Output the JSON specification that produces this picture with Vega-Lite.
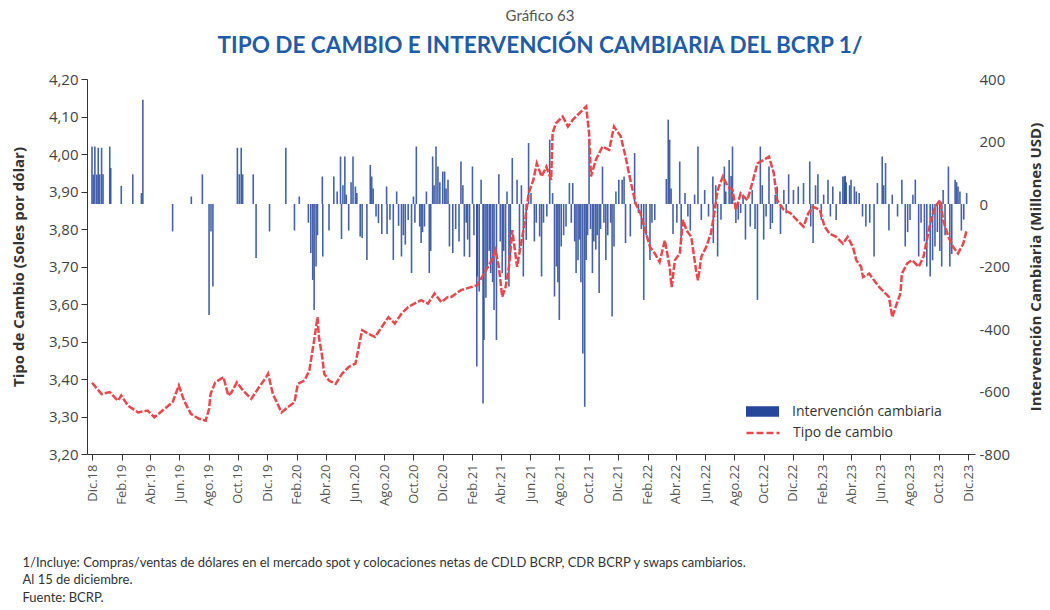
{
  "$schema": "https://vega.github.io/schema/vega-lite/v6.json",
  "width": 888,
  "height": 375,
  "autosize": "none",
  "padding": {"left": 87, "top": 79, "right": 75, "bottom": 156},
  "background": "white",
  "config": {"view": {"stroke": null}},
  "title": {
    "text": "Gráfico 63",
    "subtitle": "TIPO DE CAMBIO E INTERVENCIÓN CAMBIARIA DEL BCRP 1/",
    "anchor": "middle",
    "dx": 9,
    "offset": 15,
    "font": "Lato",
    "fontSize": 15,
    "fontWeight": "normal",
    "color": "#555555",
    "subtitleFont": "Lato",
    "subtitleFontSize": 22.5,
    "subtitleFontWeight": "bold",
    "subtitleColor": "#1f5ca8",
    "subtitlePadding": 11
  },
  "datasets": {
    "tc": [
      {"fecha": "2018-12-01", "tc": 3.39}, {"fecha": "2018-12-21", "tc": 3.36}, {"fecha": "2019-01-07", "tc": 3.365}, {"fecha": "2019-01-24", "tc": 3.342}, {"fecha": "2019-01-31", "tc": 3.356}, {"fecha": "2019-02-14", "tc": 3.329}, {"fecha": "2019-03-07", "tc": 3.311}, {"fecha": "2019-03-27", "tc": 3.316}, {"fecha": "2019-04-10", "tc": 3.298}, {"fecha": "2019-05-01", "tc": 3.32}, {"fecha": "2019-05-18", "tc": 3.338}, {"fecha": "2019-05-31", "tc": 3.383}, {"fecha": "2019-06-11", "tc": 3.342}, {"fecha": "2019-06-25", "tc": 3.307}, {"fecha": "2019-07-12", "tc": 3.294}, {"fecha": "2019-07-26", "tc": 3.289}, {"fecha": "2019-08-02", "tc": 3.32}, {"fecha": "2019-08-05", "tc": 3.36}, {"fecha": "2019-08-15", "tc": 3.391}, {"fecha": "2019-09-01", "tc": 3.405}, {"fecha": "2019-09-11", "tc": 3.356}, {"fecha": "2019-09-18", "tc": 3.365}, {"fecha": "2019-09-29", "tc": 3.391}, {"fecha": "2019-10-12", "tc": 3.369}, {"fecha": "2019-10-29", "tc": 3.347}, {"fecha": "2019-11-12", "tc": 3.374}, {"fecha": "2019-11-29", "tc": 3.405}, {"fecha": "2019-12-03", "tc": 3.414}, {"fecha": "2019-12-13", "tc": 3.36}, {"fecha": "2019-12-31", "tc": 3.311}, {"fecha": "2020-01-13", "tc": 3.325}, {"fecha": "2020-01-27", "tc": 3.338}, {"fecha": "2020-02-03", "tc": 3.387}, {"fecha": "2020-02-17", "tc": 3.396}, {"fecha": "2020-02-27", "tc": 3.423}, {"fecha": "2020-03-08", "tc": 3.503}, {"fecha": "2020-03-15", "tc": 3.565}, {"fecha": "2020-03-18", "tc": 3.512}, {"fecha": "2020-03-25", "tc": 3.458}, {"fecha": "2020-03-29", "tc": 3.414}, {"fecha": "2020-04-08", "tc": 3.396}, {"fecha": "2020-04-22", "tc": 3.387}, {"fecha": "2020-05-05", "tc": 3.414}, {"fecha": "2020-05-19", "tc": 3.432}, {"fecha": "2020-06-02", "tc": 3.441}, {"fecha": "2020-06-09", "tc": 3.485}, {"fecha": "2020-06-16", "tc": 3.53}, {"fecha": "2020-06-29", "tc": 3.521}, {"fecha": "2020-07-13", "tc": 3.512}, {"fecha": "2020-07-27", "tc": 3.539}, {"fecha": "2020-08-10", "tc": 3.565}, {"fecha": "2020-08-23", "tc": 3.548}, {"fecha": "2020-09-06", "tc": 3.574}, {"fecha": "2020-09-20", "tc": 3.592}, {"fecha": "2020-10-03", "tc": 3.601}, {"fecha": "2020-10-17", "tc": 3.61}, {"fecha": "2020-10-31", "tc": 3.601}, {"fecha": "2020-11-14", "tc": 3.628}, {"fecha": "2020-11-28", "tc": 3.605}, {"fecha": "2020-12-12", "tc": 3.619}, {"fecha": "2020-12-19", "tc": 3.619}, {"fecha": "2021-01-08", "tc": 3.637}, {"fecha": "2021-01-29", "tc": 3.645}, {"fecha": "2021-02-11", "tc": 3.65}, {"fecha": "2021-02-25", "tc": 3.681}, {"fecha": "2021-03-11", "tc": 3.712}, {"fecha": "2021-03-21", "tc": 3.744}, {"fecha": "2021-03-28", "tc": 3.699}, {"fecha": "2021-04-04", "tc": 3.619}, {"fecha": "2021-04-11", "tc": 3.645}, {"fecha": "2021-04-18", "tc": 3.699}, {"fecha": "2021-04-25", "tc": 3.797}, {"fecha": "2021-05-05", "tc": 3.699}, {"fecha": "2021-05-12", "tc": 3.752}, {"fecha": "2021-05-22", "tc": 3.824}, {"fecha": "2021-05-29", "tc": 3.895}, {"fecha": "2021-06-08", "tc": 3.931}, {"fecha": "2021-06-15", "tc": 3.975}, {"fecha": "2021-06-25", "tc": 3.94}, {"fecha": "2021-07-05", "tc": 3.966}, {"fecha": "2021-07-15", "tc": 3.931}, {"fecha": "2021-07-18", "tc": 4.056}, {"fecha": "2021-07-25", "tc": 4.082}, {"fecha": "2021-08-08", "tc": 4.1}, {"fecha": "2021-08-19", "tc": 4.073}, {"fecha": "2021-08-29", "tc": 4.091}, {"fecha": "2021-09-12", "tc": 4.109}, {"fecha": "2021-09-26", "tc": 4.127}, {"fecha": "2021-10-02", "tc": 4.056}, {"fecha": "2021-10-06", "tc": 3.94}, {"fecha": "2021-10-16", "tc": 3.984}, {"fecha": "2021-10-30", "tc": 4.02}, {"fecha": "2021-11-13", "tc": 4.011}, {"fecha": "2021-11-23", "tc": 4.073}, {"fecha": "2021-12-07", "tc": 4.047}, {"fecha": "2021-12-17", "tc": 3.993}, {"fecha": "2021-12-27", "tc": 3.931}, {"fecha": "2022-01-07", "tc": 3.868}, {"fecha": "2022-01-17", "tc": 3.842}, {"fecha": "2022-01-27", "tc": 3.797}, {"fecha": "2022-02-06", "tc": 3.752}, {"fecha": "2022-02-16", "tc": 3.735}, {"fecha": "2022-02-26", "tc": 3.712}, {"fecha": "2022-03-09", "tc": 3.77}, {"fecha": "2022-03-19", "tc": 3.699}, {"fecha": "2022-03-23", "tc": 3.645}, {"fecha": "2022-03-30", "tc": 3.717}, {"fecha": "2022-04-09", "tc": 3.735}, {"fecha": "2022-04-16", "tc": 3.824}, {"fecha": "2022-04-23", "tc": 3.797}, {"fecha": "2022-05-03", "tc": 3.779}, {"fecha": "2022-05-13", "tc": 3.69}, {"fecha": "2022-05-17", "tc": 3.663}, {"fecha": "2022-05-24", "tc": 3.726}, {"fecha": "2022-06-03", "tc": 3.752}, {"fecha": "2022-06-13", "tc": 3.788}, {"fecha": "2022-06-20", "tc": 3.842}, {"fecha": "2022-06-27", "tc": 3.904}, {"fecha": "2022-07-08", "tc": 3.94}, {"fecha": "2022-07-18", "tc": 3.913}, {"fecha": "2022-07-28", "tc": 3.904}, {"fecha": "2022-08-04", "tc": 3.851}, {"fecha": "2022-08-14", "tc": 3.895}, {"fecha": "2022-08-28", "tc": 3.877}, {"fecha": "2022-09-07", "tc": 3.922}, {"fecha": "2022-09-18", "tc": 3.975}, {"fecha": "2022-10-01", "tc": 3.984}, {"fecha": "2022-10-12", "tc": 3.993}, {"fecha": "2022-10-22", "tc": 3.949}, {"fecha": "2022-10-29", "tc": 3.877}, {"fecha": "2022-11-12", "tc": 3.851}, {"fecha": "2022-11-26", "tc": 3.842}, {"fecha": "2022-12-09", "tc": 3.824}, {"fecha": "2022-12-23", "tc": 3.806}, {"fecha": "2023-01-02", "tc": 3.842}, {"fecha": "2023-01-12", "tc": 3.859}, {"fecha": "2023-01-26", "tc": 3.851}, {"fecha": "2023-02-05", "tc": 3.806}, {"fecha": "2023-02-15", "tc": 3.788}, {"fecha": "2023-03-01", "tc": 3.779}, {"fecha": "2023-03-15", "tc": 3.761}, {"fecha": "2023-03-25", "tc": 3.779}, {"fecha": "2023-04-05", "tc": 3.752}, {"fecha": "2023-04-12", "tc": 3.717}, {"fecha": "2023-04-22", "tc": 3.699}, {"fecha": "2023-04-26", "tc": 3.672}, {"fecha": "2023-05-09", "tc": 3.681}, {"fecha": "2023-05-19", "tc": 3.663}, {"fecha": "2023-05-30", "tc": 3.645}, {"fecha": "2023-06-12", "tc": 3.628}, {"fecha": "2023-06-19", "tc": 3.619}, {"fecha": "2023-06-26", "tc": 3.565}, {"fecha": "2023-07-03", "tc": 3.592}, {"fecha": "2023-07-13", "tc": 3.628}, {"fecha": "2023-07-16", "tc": 3.681}, {"fecha": "2023-07-27", "tc": 3.708}, {"fecha": "2023-08-06", "tc": 3.717}, {"fecha": "2023-08-20", "tc": 3.699}, {"fecha": "2023-08-30", "tc": 3.726}, {"fecha": "2023-09-06", "tc": 3.77}, {"fecha": "2023-09-13", "tc": 3.815}, {"fecha": "2023-09-23", "tc": 3.859}, {"fecha": "2023-10-04", "tc": 3.877}, {"fecha": "2023-10-10", "tc": 3.824}, {"fecha": "2023-10-21", "tc": 3.779}, {"fecha": "2023-10-31", "tc": 3.752}, {"fecha": "2023-11-10", "tc": 3.735}, {"fecha": "2023-11-21", "tc": 3.761}, {"fecha": "2023-11-28", "tc": 3.797}
    ],
    "int": [
      {"fecha": "2018-12-01", "millones": 184}, {"fecha": "2018-12-04", "millones": 94}, {"fecha": "2018-12-07", "millones": 184}, {"fecha": "2018-12-11", "millones": 94}, {"fecha": "2018-12-14", "millones": 180}, {"fecha": "2018-12-17", "millones": 95}, {"fecha": "2018-12-21", "millones": 180}, {"fecha": "2018-12-24", "millones": 95}, {"fecha": "2019-01-07", "millones": 184}, {"fecha": "2019-01-09", "millones": 115}, {"fecha": "2019-01-31", "millones": 58}, {"fecha": "2019-02-24", "millones": 95}, {"fecha": "2019-03-14", "millones": 35}, {"fecha": "2019-03-17", "millones": 334}, {"fecha": "2019-05-18", "millones": -88}, {"fecha": "2019-06-26", "millones": 24}, {"fecha": "2019-07-19", "millones": 95}, {"fecha": "2019-08-02", "millones": -355}, {"fecha": "2019-08-06", "millones": -88}, {"fecha": "2019-08-10", "millones": -264}, {"fecha": "2019-09-30", "millones": 180}, {"fecha": "2019-10-04", "millones": 95}, {"fecha": "2019-10-08", "millones": 180}, {"fecha": "2019-10-11", "millones": 95}, {"fecha": "2019-11-02", "millones": 95}, {"fecha": "2019-11-08", "millones": -173}, {"fecha": "2019-12-06", "millones": -88}, {"fecha": "2020-01-09", "millones": 180}, {"fecha": "2020-01-27", "millones": -85}, {"fecha": "2020-02-06", "millones": 24}, {"fecha": "2020-02-25", "millones": -60}, {"fecha": "2020-03-01", "millones": -157}, {"fecha": "2020-03-05", "millones": -243}, {"fecha": "2020-03-08", "millones": -339}, {"fecha": "2020-03-12", "millones": -200}, {"fecha": "2020-03-15", "millones": -100}, {"fecha": "2020-03-25", "millones": 88}, {"fecha": "2020-03-26", "millones": -168}, {"fecha": "2020-04-08", "millones": -85}, {"fecha": "2020-04-18", "millones": 88}, {"fecha": "2020-04-25", "millones": 40}, {"fecha": "2020-05-02", "millones": 152}, {"fecha": "2020-05-04", "millones": -112}, {"fecha": "2020-05-07", "millones": 60}, {"fecha": "2020-05-11", "millones": 152}, {"fecha": "2020-05-14", "millones": 30}, {"fecha": "2020-05-19", "millones": -85}, {"fecha": "2020-05-24", "millones": 70}, {"fecha": "2020-05-28", "millones": 152}, {"fecha": "2020-06-02", "millones": 56}, {"fecha": "2020-06-05", "millones": 35}, {"fecha": "2020-06-12", "millones": -104}, {"fecha": "2020-06-16", "millones": -109}, {"fecha": "2020-06-26", "millones": -179}, {"fecha": "2020-07-03", "millones": 125}, {"fecha": "2020-07-06", "millones": 88}, {"fecha": "2020-07-09", "millones": 50}, {"fecha": "2020-07-15", "millones": -40}, {"fecha": "2020-07-20", "millones": -61}, {"fecha": "2020-07-27", "millones": -96}, {"fecha": "2020-08-06", "millones": 56}, {"fecha": "2020-08-07", "millones": -96}, {"fecha": "2020-08-13", "millones": -50}, {"fecha": "2020-08-20", "millones": -179}, {"fecha": "2020-08-27", "millones": 40}, {"fecha": "2020-08-31", "millones": -70}, {"fecha": "2020-09-06", "millones": -168}, {"fecha": "2020-09-10", "millones": -100}, {"fecha": "2020-09-14", "millones": -130}, {"fecha": "2020-09-20", "millones": -51}, {"fecha": "2020-09-27", "millones": -221}, {"fecha": "2020-10-01", "millones": 24}, {"fecha": "2020-10-04", "millones": -60}, {"fecha": "2020-10-07", "millones": 184}, {"fecha": "2020-10-14", "millones": -72}, {"fecha": "2020-10-17", "millones": -125}, {"fecha": "2020-10-20", "millones": -90}, {"fecha": "2020-10-24", "millones": -72}, {"fecha": "2020-10-28", "millones": 40}, {"fecha": "2020-11-03", "millones": -221}, {"fecha": "2020-11-06", "millones": -150}, {"fecha": "2020-11-10", "millones": 152}, {"fecha": "2020-11-13", "millones": 60}, {"fecha": "2020-11-17", "millones": 184}, {"fecha": "2020-11-21", "millones": 120}, {"fecha": "2020-11-25", "millones": 70}, {"fecha": "2020-12-01", "millones": 104}, {"fecha": "2020-12-05", "millones": 104}, {"fecha": "2020-12-08", "millones": 50}, {"fecha": "2020-12-12", "millones": 78}, {"fecha": "2020-12-15", "millones": -136}, {"fecha": "2020-12-22", "millones": -157}, {"fecha": "2020-12-28", "millones": -80}, {"fecha": "2021-01-04", "millones": -120}, {"fecha": "2021-01-08", "millones": 136}, {"fecha": "2021-01-12", "millones": 60}, {"fecha": "2021-01-15", "millones": -168}, {"fecha": "2021-01-19", "millones": -60}, {"fecha": "2021-01-22", "millones": -114}, {"fecha": "2021-01-26", "millones": -170}, {"fecha": "2021-02-01", "millones": 120}, {"fecha": "2021-02-04", "millones": -100}, {"fecha": "2021-02-10", "millones": -520}, {"fecha": "2021-02-11", "millones": -232}, {"fecha": "2021-02-15", "millones": -280}, {"fecha": "2021-02-19", "millones": 78}, {"fecha": "2021-02-23", "millones": -638}, {"fecha": "2021-02-25", "millones": -435}, {"fecha": "2021-03-01", "millones": -300}, {"fecha": "2021-03-04", "millones": -200}, {"fecha": "2021-03-08", "millones": -150}, {"fecha": "2021-03-11", "millones": -221}, {"fecha": "2021-03-15", "millones": -250}, {"fecha": "2021-03-18", "millones": -339}, {"fecha": "2021-03-23", "millones": -435}, {"fecha": "2021-03-28", "millones": 95}, {"fecha": "2021-03-31", "millones": -120}, {"fecha": "2021-04-04", "millones": -221}, {"fecha": "2021-04-07", "millones": -150}, {"fecha": "2021-04-11", "millones": -243}, {"fecha": "2021-04-14", "millones": 40}, {"fecha": "2021-04-18", "millones": -264}, {"fecha": "2021-04-21", "millones": -180}, {"fecha": "2021-04-25", "millones": 147}, {"fecha": "2021-05-05", "millones": 78}, {"fecha": "2021-05-10", "millones": -150}, {"fecha": "2021-05-14", "millones": 60}, {"fecha": "2021-05-18", "millones": -232}, {"fecha": "2021-05-24", "millones": -115}, {"fecha": "2021-05-29", "millones": 195}, {"fecha": "2021-06-03", "millones": 35}, {"fecha": "2021-06-10", "millones": -120}, {"fecha": "2021-06-14", "millones": -60}, {"fecha": "2021-06-21", "millones": -104}, {"fecha": "2021-06-25", "millones": -232}, {"fecha": "2021-06-29", "millones": -60}, {"fecha": "2021-07-06", "millones": -40}, {"fecha": "2021-07-12", "millones": 206}, {"fecha": "2021-07-18", "millones": 35}, {"fecha": "2021-07-22", "millones": -296}, {"fecha": "2021-07-26", "millones": -200}, {"fecha": "2021-07-29", "millones": -250}, {"fecha": "2021-08-01", "millones": -371}, {"fecha": "2021-08-05", "millones": -136}, {"fecha": "2021-08-10", "millones": -100}, {"fecha": "2021-08-15", "millones": -72}, {"fecha": "2021-08-22", "millones": 67}, {"fecha": "2021-08-26", "millones": -60}, {"fecha": "2021-08-29", "millones": 67}, {"fecha": "2021-09-02", "millones": -120}, {"fecha": "2021-09-05", "millones": -221}, {"fecha": "2021-09-09", "millones": -180}, {"fecha": "2021-09-12", "millones": -114}, {"fecha": "2021-09-15", "millones": -250}, {"fecha": "2021-09-19", "millones": -478}, {"fecha": "2021-09-23", "millones": -649}, {"fecha": "2021-09-26", "millones": -179}, {"fecha": "2021-09-29", "millones": -100}, {"fecha": "2021-10-02", "millones": 206}, {"fecha": "2021-10-05", "millones": -80}, {"fecha": "2021-10-09", "millones": -221}, {"fecha": "2021-10-12", "millones": -120}, {"fecha": "2021-10-16", "millones": -146}, {"fecha": "2021-10-19", "millones": -100}, {"fecha": "2021-10-23", "millones": -285}, {"fecha": "2021-10-26", "millones": -80}, {"fecha": "2021-10-30", "millones": 120}, {"fecha": "2021-11-02", "millones": -60}, {"fecha": "2021-11-06", "millones": -179}, {"fecha": "2021-11-10", "millones": -100}, {"fecha": "2021-11-16", "millones": -60}, {"fecha": "2021-11-19", "millones": -360}, {"fecha": "2021-11-23", "millones": -136}, {"fecha": "2021-11-27", "millones": 40}, {"fecha": "2021-12-03", "millones": 78}, {"fecha": "2021-12-10", "millones": 78}, {"fecha": "2021-12-14", "millones": 88}, {"fecha": "2021-12-17", "millones": -125}, {"fecha": "2021-12-27", "millones": -104}, {"fecha": "2022-01-05", "millones": 163}, {"fecha": "2022-01-13", "millones": -29}, {"fecha": "2022-01-19", "millones": -80}, {"fecha": "2022-01-24", "millones": -307}, {"fecha": "2022-01-29", "millones": -100}, {"fecha": "2022-02-06", "millones": -179}, {"fecha": "2022-02-10", "millones": -60}, {"fecha": "2022-02-16", "millones": -51}, {"fecha": "2022-03-12", "millones": 80}, {"fecha": "2022-03-16", "millones": 270}, {"fecha": "2022-03-19", "millones": 206}, {"fecha": "2022-03-22", "millones": 50}, {"fecha": "2022-03-26", "millones": -96}, {"fecha": "2022-04-03", "millones": -60}, {"fecha": "2022-04-09", "millones": 136}, {"fecha": "2022-04-12", "millones": -125}, {"fecha": "2022-04-20", "millones": 35}, {"fecha": "2022-04-26", "millones": -40}, {"fecha": "2022-05-01", "millones": -85}, {"fecha": "2022-05-10", "millones": 30}, {"fecha": "2022-05-17", "millones": 184}, {"fecha": "2022-05-24", "millones": -51}, {"fecha": "2022-05-31", "millones": 45}, {"fecha": "2022-06-08", "millones": -40}, {"fecha": "2022-06-17", "millones": 88}, {"fecha": "2022-06-18", "millones": -125}, {"fecha": "2022-06-23", "millones": 60}, {"fecha": "2022-06-27", "millones": -168}, {"fecha": "2022-07-04", "millones": -50}, {"fecha": "2022-07-11", "millones": 120}, {"fecha": "2022-07-14", "millones": 40}, {"fecha": "2022-07-21", "millones": 141}, {"fecha": "2022-07-25", "millones": 90}, {"fecha": "2022-07-28", "millones": 184}, {"fecha": "2022-08-04", "millones": -61}, {"fecha": "2022-08-09", "millones": -50}, {"fecha": "2022-08-14", "millones": -29}, {"fecha": "2022-08-19", "millones": 30}, {"fecha": "2022-08-24", "millones": -114}, {"fecha": "2022-09-03", "millones": -72}, {"fecha": "2022-09-07", "millones": 45}, {"fecha": "2022-09-13", "millones": -80}, {"fecha": "2022-09-18", "millones": -307}, {"fecha": "2022-09-24", "millones": 184}, {"fecha": "2022-09-28", "millones": 60}, {"fecha": "2022-10-01", "millones": -114}, {"fecha": "2022-10-06", "millones": -40}, {"fecha": "2022-10-12", "millones": 120}, {"fecha": "2022-10-15", "millones": -80}, {"fecha": "2022-10-19", "millones": -61}, {"fecha": "2022-10-25", "millones": 30}, {"fecha": "2022-10-29", "millones": 56}, {"fecha": "2022-11-05", "millones": -96}, {"fecha": "2022-11-12", "millones": 45}, {"fecha": "2022-11-17", "millones": -30}, {"fecha": "2022-11-22", "millones": 95}, {"fecha": "2022-12-02", "millones": 45}, {"fecha": "2022-12-12", "millones": 56}, {"fecha": "2022-12-23", "millones": 67}, {"fecha": "2023-01-05", "millones": 136}, {"fecha": "2023-01-07", "millones": -72}, {"fecha": "2023-01-12", "millones": -125}, {"fecha": "2023-01-17", "millones": 60}, {"fecha": "2023-01-22", "millones": 95}, {"fecha": "2023-01-29", "millones": -51}, {"fecha": "2023-02-03", "millones": 30}, {"fecha": "2023-02-12", "millones": 78}, {"fecha": "2023-02-17", "millones": -40}, {"fecha": "2023-02-22", "millones": 56}, {"fecha": "2023-03-01", "millones": -51}, {"fecha": "2023-03-09", "millones": 40}, {"fecha": "2023-03-15", "millones": 88}, {"fecha": "2023-03-18", "millones": 88}, {"fecha": "2023-03-20", "millones": 90}, {"fecha": "2023-03-22", "millones": 70}, {"fecha": "2023-03-29", "millones": 60}, {"fecha": "2023-04-01", "millones": 78}, {"fecha": "2023-04-08", "millones": 56}, {"fecha": "2023-04-12", "millones": 40}, {"fecha": "2023-04-18", "millones": 35}, {"fecha": "2023-04-25", "millones": -40}, {"fecha": "2023-05-02", "millones": -72}, {"fecha": "2023-05-10", "millones": -60}, {"fecha": "2023-05-19", "millones": -168}, {"fecha": "2023-05-26", "millones": 67}, {"fecha": "2023-06-05", "millones": 152}, {"fecha": "2023-06-08", "millones": 60}, {"fecha": "2023-06-12", "millones": 131}, {"fecha": "2023-06-19", "millones": -85}, {"fecha": "2023-06-26", "millones": 30}, {"fecha": "2023-07-07", "millones": -40}, {"fecha": "2023-07-16", "millones": 78}, {"fecha": "2023-07-23", "millones": -136}, {"fecha": "2023-07-28", "millones": -90}, {"fecha": "2023-08-02", "millones": -51}, {"fecha": "2023-08-08", "millones": 30}, {"fecha": "2023-08-13", "millones": 78}, {"fecha": "2023-08-20", "millones": -168}, {"fecha": "2023-08-25", "millones": -60}, {"fecha": "2023-09-01", "millones": -120}, {"fecha": "2023-09-06", "millones": -200}, {"fecha": "2023-09-13", "millones": -232}, {"fecha": "2023-09-18", "millones": -180}, {"fecha": "2023-09-23", "millones": -136}, {"fecha": "2023-09-28", "millones": -90}, {"fecha": "2023-10-03", "millones": -150}, {"fecha": "2023-10-07", "millones": -200}, {"fecha": "2023-10-10", "millones": 45}, {"fecha": "2023-10-14", "millones": -100}, {"fecha": "2023-10-21", "millones": 120}, {"fecha": "2023-10-24", "millones": -200}, {"fecha": "2023-10-28", "millones": -160}, {"fecha": "2023-11-04", "millones": 78}, {"fecha": "2023-11-07", "millones": 70}, {"fecha": "2023-11-10", "millones": 56}, {"fecha": "2023-11-14", "millones": 40}, {"fecha": "2023-11-17", "millones": -85}, {"fecha": "2023-11-22", "millones": -50}, {"fecha": "2023-11-28", "millones": 35}
    ]
  },
  "encoding": {
    "x": {
      "field": "fecha",
      "type": "temporal",
      "scale": {"type": "utc", "domain": [{"year": 2018, "month": 12, "date": 1, "utc": true}, {"year": 2023, "month": 12, "date": 5, "utc": true}]},
      "axis": {
        "values": [
          {"year": 2018, "month": 12, "date": 1, "utc": true},
          {"year": 2019, "month": 2, "date": 1, "utc": true}, {"year": 2019, "month": 4, "date": 1, "utc": true}, {"year": 2019, "month": 6, "date": 1, "utc": true}, {"year": 2019, "month": 8, "date": 1, "utc": true}, {"year": 2019, "month": 10, "date": 1, "utc": true}, {"year": 2019, "month": 12, "date": 1, "utc": true},
          {"year": 2020, "month": 2, "date": 1, "utc": true}, {"year": 2020, "month": 4, "date": 1, "utc": true}, {"year": 2020, "month": 6, "date": 1, "utc": true}, {"year": 2020, "month": 8, "date": 1, "utc": true}, {"year": 2020, "month": 10, "date": 1, "utc": true}, {"year": 2020, "month": 12, "date": 1, "utc": true},
          {"year": 2021, "month": 2, "date": 1, "utc": true}, {"year": 2021, "month": 4, "date": 1, "utc": true}, {"year": 2021, "month": 6, "date": 1, "utc": true}, {"year": 2021, "month": 8, "date": 1, "utc": true}, {"year": 2021, "month": 10, "date": 1, "utc": true}, {"year": 2021, "month": 12, "date": 1, "utc": true},
          {"year": 2022, "month": 2, "date": 1, "utc": true}, {"year": 2022, "month": 4, "date": 1, "utc": true}, {"year": 2022, "month": 6, "date": 1, "utc": true}, {"year": 2022, "month": 8, "date": 1, "utc": true}, {"year": 2022, "month": 10, "date": 1, "utc": true}, {"year": 2022, "month": 12, "date": 1, "utc": true},
          {"year": 2023, "month": 2, "date": 1, "utc": true}, {"year": 2023, "month": 4, "date": 1, "utc": true}, {"year": 2023, "month": 6, "date": 1, "utc": true}, {"year": 2023, "month": 8, "date": 1, "utc": true}, {"year": 2023, "month": 10, "date": 1, "utc": true}, {"year": 2023, "month": 12, "date": 1, "utc": true}
        ],
        "labelExpr": "['Ene','Feb','Mar','Abr','May','Jun','Jul','Ago','Set','Oct','Nov','Dic'][utcmonth(datum.value)] + '.' + utcFormat(datum.value, '%y')",
        "labelAngle": -90,
        "labelFont": "Open Sans",
        "labelFontSize": 13,
        "labelColor": "#555555",
        "labelPadding": 4,
        "tickSize": 6,
        "tickColor": "#333333",
        "domainColor": "#333333",
        "grid": false,
        "title": ["1/Incluye: Compras/ventas de dólares en el mercado spot y colocaciones netas de CDLD BCRP, CDR BCRP y swaps cambiarios.", "Al 15 de diciembre.", "Fuente: BCRP."],
        "titleAnchor": "start",
        "titleAlign": "left",
        "titleBaseline": "top",
        "titleX": -65,
        "titleY": 102,
        "titleFont": "Lato",
        "titleFontSize": 13,
        "titleFontWeight": "normal",
        "titleColor": "#333333",
        "titleLineHeight": 17.5
      }
    }
  },
  "layer": [
    {
      "data": {"name": "int"},
      "mark": {"type": "bar", "width": 1.6, "opacity": 0.85},
      "encoding": {
        "y": {
          "field": "millones",
          "type": "quantitative",
          "scale": {"domain": [-800, 400]},
          "axis": {
            "orient": "right",
            "values": [-800, -600, -400, -200, 0, 200, 400],
            "labelExpr": "'' + datum.value",
            "domain": false,
            "ticks": false,
            "grid": false,
            "labelPadding": 4,
            "labelFont": "Open Sans",
            "labelFontSize": 15,
            "labelColor": "#444444",
            "title": "Intervención Cambiaria (Millones USD)",
            "titleAngle": 270,
            "titleFont": "Open Sans",
            "titleFontSize": 15,
            "titleFontWeight": "bold",
            "titleColor": "#333333",
            "titlePadding": 34
          }
        },
        "fill": {
          "datum": "Intervención cambiaria",
          "scale": {"range": ["#24479a"]},
          "legend": {
            "orient": "none",
            "legendX": 658,
            "legendY": 315,
            "title": null,
            "padding": 0,
            "symbolType": "M-1,-0.32H1V0.32H-1Z",
            "symbolSize": 1089,
            "symbolOpacity": 1,
            "labelOffset": 12,
            "labelFont": "Open Sans",
            "labelFontSize": 14,
            "labelColor": "#333333"
          }
        }
      }
    },
    {
      "data": {"name": "tc"},
      "mark": {"type": "line", "strokeWidth": 2.5, "strokeDash": [7, 2]},
      "encoding": {
        "y": {
          "field": "tc",
          "type": "quantitative",
          "scale": {"domain": [3.2, 4.2]},
          "axis": {
            "orient": "left",
            "values": [3.2, 3.3, 3.4, 3.5, 3.6, 3.7, 3.8, 3.9, 4.0, 4.1, 4.2],
            "labelExpr": "replace(format(datum.value, '.2f'), '.', ',')",
            "grid": false,
            "tickSize": 6,
            "tickColor": "#333333",
            "domainColor": "#333333",
            "labelPadding": 3,
            "labelFont": "Open Sans",
            "labelFontSize": 15,
            "labelColor": "#444444",
            "title": "Tipo de Cambio (Soles por dólar)",
            "titleFont": "Open Sans",
            "titleFontSize": 15,
            "titleFontWeight": "bold",
            "titleColor": "#333333",
            "titlePadding": 22
          }
        },
        "stroke": {
          "datum": "Tipo de cambio",
          "scale": {"range": ["#e8474c"]},
          "legend": {
            "orient": "none",
            "legendX": 658,
            "legendY": 336,
            "title": null,
            "padding": 0,
            "symbolType": "stroke",
            "symbolSize": 1089,
            "symbolStrokeWidth": 2.5,
            "symbolDash": [7, 3],
            "labelOffset": 12,
            "labelFont": "Open Sans",
            "labelFontSize": 14,
            "labelColor": "#333333"
          }
        }
      }
    }
  ],
  "resolve": {"scale": {"y": "independent"}}
}
